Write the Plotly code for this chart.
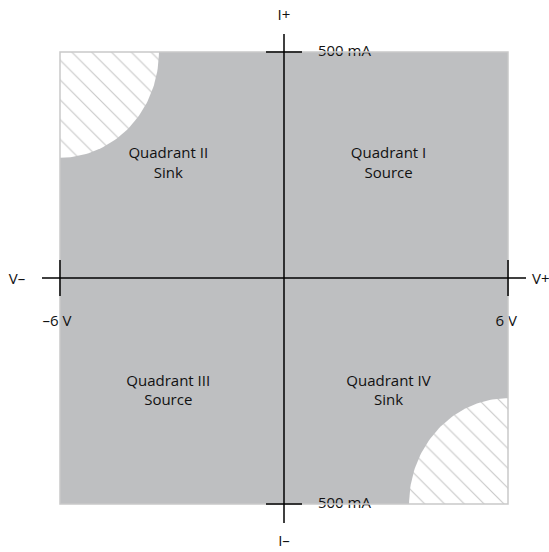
import numpy as np
import plotly.graph_objects as go

# Axis limits of the 4-quadrant operating area
v_limits = [-6, 6]          # V
i_limits = [-500, 500]      # mA

# Restricted (hatched) corners: semi-axes of the elliptical cut-outs
hatch_rv = 2.65             # V
hatch_ri = 234              # mA
hatch_centers = [(-6, 500), (6, -500)]

# Quadrant labels
quad_x = [2.8, -3.1, -3.1, 2.8]
quad_y = [252, 252, -252, -252]
quad_text = ["Quadrant I<br>Source", "Quadrant II<br>Sink",
             "Quadrant III<br>Source", "Quadrant IV<br>Sink"]

# Axis end labels (placed in data units, outside the operating area)
end_x = [0, 0, -7.15, 6.88, -6.08, 5.95, 1.62, 1.62]
end_y = [580, -584, -6, -6, -97, -97, 500, -500]
end_text = ["I+", "I\u2013", "V\u2013", "V+", "\u20136 V", "6 V",
            "500 mA", "500 mA"]

FONT = "Open Sans"
GRAY = "#bebfc1"
HATCH = "#c9c9c9"
TXT = "#111"

# view covers the whole page so the outer labels are inside the axes
x_view = [-7.607, 7.098]
y_view = [-606.2, 615.0]
tick_v = 0.482     # half tick length in V
tick_i = 39.8      # half tick length in mA

fig = go.Figure()

# hatched corners
for cx, cy in hatch_centers:
    sx = 1 if cx < 0 else -1
    sy = 1 if cy < 0 else -1
    t = np.linspace(0, np.pi / 2, 60)
    xs = [cx] + list(cx + sx * hatch_rv * np.cos(t)) + [cx]
    ys = [cy] + list(cy + sy * hatch_ri * np.sin(t)) + [cy]
    fig.add_trace(go.Scatter(
        x=xs, y=ys, mode="lines", fill="toself",
        line=dict(width=0, color="white"),
        fillcolor="white",
        fillpattern=dict(shape="\\", size=14, solidity=0.08,
                         fgcolor=HATCH, bgcolor="white", fillmode="replace"),
        hoverinfo="skip", showlegend=False))

# quadrant texts
fig.add_trace(go.Scatter(
    x=quad_x, y=quad_y, mode="text", text=quad_text,
    textfont=dict(family=FONT, size=15, color=TXT),
    hoverinfo="skip", showlegend=False))

# axis end labels
fig.add_trace(go.Scatter(
    x=end_x, y=end_y, mode="text", text=end_text,
    textfont=dict(family=FONT, size=15, color=TXT),
    hoverinfo="skip", showlegend=False))

x0, x1 = v_limits
y0, y1 = i_limits
shapes = [
    # gray operating area
    dict(type="rect", x0=x0, x1=x1, y0=y0, y1=y1, fillcolor=GRAY,
         line=dict(width=0), layer="below"),
    # light outline (visible around the hatched corners)
    dict(type="rect", x0=x0, x1=x1, y0=y0, y1=y1,
         fillcolor="rgba(0,0,0,0)", line=dict(color=HATCH, width=1.5)),
]

line = dict(color="black", width=1.5)
# main axes
shapes.append(dict(type="line", x0=x0 - tick_v, x1=x1 + tick_v,
                   y0=0, y1=0, line=line))
shapes.append(dict(type="line", x0=0, x1=0, y0=y0 - tick_i - 2,
                   y1=y1 + tick_i, line=line))
# end ticks
for xv in v_limits:
    shapes.append(dict(type="line", x0=xv, x1=xv, y0=-tick_i, y1=tick_i,
                       line=line))
for yv in i_limits:
    shapes.append(dict(type="line", x0=-tick_v, x1=tick_v, y0=yv, y1=yv,
                       line=line))
for s in shapes:
    s["xref"] = "x"
    s["yref"] = "y"

fig.update_layout(
    width=549, height=552,
    margin=dict(l=0, r=0, t=0, b=0),
    paper_bgcolor="white", plot_bgcolor="white",
    xaxis=dict(range=x_view, visible=False, fixedrange=True),
    yaxis=dict(range=y_view, visible=False, fixedrange=True),
    shapes=shapes,
    showlegend=False,
)

fig.write_html("out.html", config={"displayModeBar": False},
               post_script="document.body.style.margin='0';")
